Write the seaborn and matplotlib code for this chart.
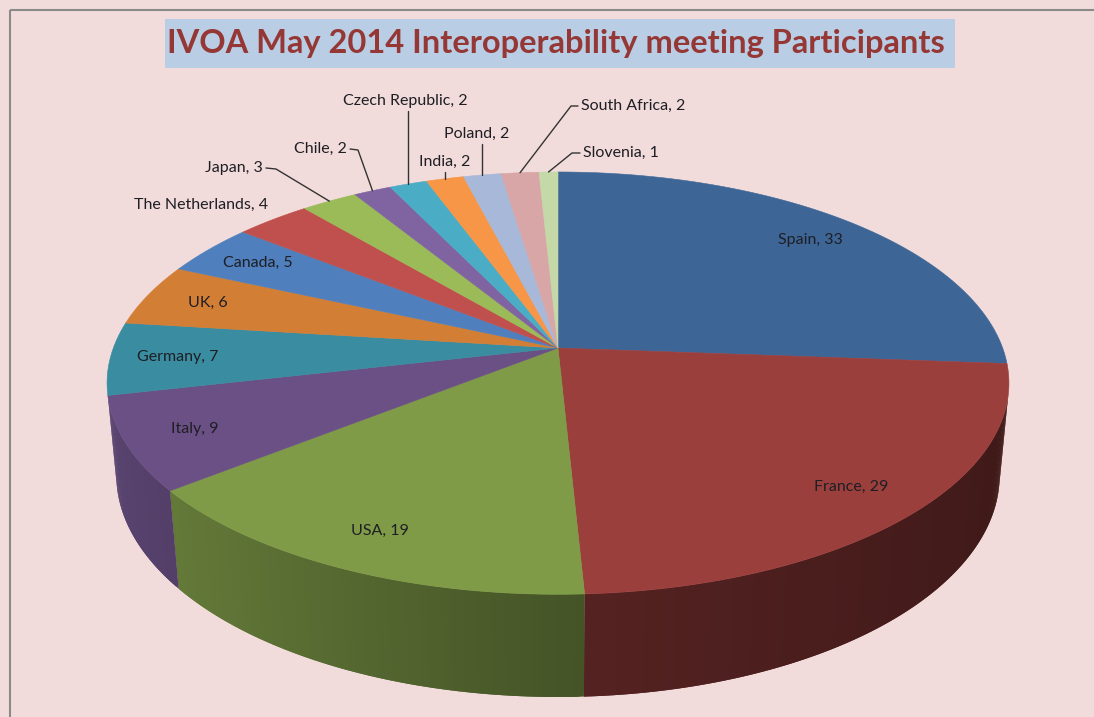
import numpy as np
import seaborn as sns
import matplotlib.pyplot as plt
from matplotlib.patches import Polygon, Rectangle

# data
countries = ["Spain", "France", "USA", "Italy", "Germany", "UK", "Canada",
             "The Netherlands", "Japan", "Chile", "Czech Republic", "India",
             "Poland", "South Africa", "Slovenia"]
participants = [33, 29, 19, 9, 7, 6, 5, 4, 3, 2, 2, 2, 2, 2, 1]
slice_colors = ["#3D6697", "#9B3F3D", "#7F9B48", "#6A5085", "#3A8CA0",
                "#D37E35", "#4F80BD", "#C0504D", "#9BBB59", "#8064A2",
                "#4BACC6", "#F79646", "#A8B8D8", "#D8A6A6", "#C4D8A8"]
title = "IVOA May 2014 Interoperability meeting Participants"

sns.set_theme(style="white")
plt.rcParams["font.family"] = ["Lato", "DejaVu Sans"]

BG = "#F2DCDB"
TXT = "#1E1E24"

# perspective camera for the 3d pie
ELEV = np.radians(27.5)
DIST = 5.33
FOCAL = 2370
CX, CY = 558, 348
THICK = 0.235


def proj(x, y, z=0.0):
    depth = DIST + y * np.cos(ELEV) - z * np.sin(ELEV)
    up = y * np.sin(ELEV) + z * np.cos(ELEV)
    return CX + FOCAL * x / depth, CY - FOCAL * up / depth


def shade(color, theta):
    rgb = np.array(sns.color_palette([color])[0])
    c = np.cos(theta)
    f = 0.55 - 0.3 * c if c < 0 else 0.55 - 0.15 * c
    return tuple(rgb * f)


vals = np.array(participants, dtype=float)
cum = np.concatenate([[0], np.cumsum(vals)])
starts = np.radians(90 - cum[:-1] / vals.sum() * 360)
ends = np.radians(90 - cum[1:] / vals.sum() * 360)

fig = plt.figure(figsize=(10.94, 7.17), dpi=100, facecolor=BG)
ax = fig.add_axes([0, 0, 1, 1])
ax.set_xlim(0, 1094)
ax.set_ylim(717, 0)
ax.axis("off")
ax.set_facecolor(BG)

# frame lines (top and left)
ax.plot([10, 1094], [9.5, 9.5], color="#8A8A8A", lw=1.5, solid_capstyle="butt")
ax.plot([10, 10], [9.5, 717], color="#8A8A8A", lw=1.5, solid_capstyle="butt")

# side walls, only the part facing the camera
limit = -1.0 / (DIST * np.cos(ELEV))
step = np.radians(0.5)
for a0, a1, col in zip(starts, ends, slice_colors):
    steps = np.linspace(a0, a1, max(int(abs(a1 - a0) / step), 2) + 1)
    for k, (t0, t1) in enumerate(zip(steps[:-1], steps[1:])):
        tm = 0.5 * (t0 + t1)
        if np.sin(tm) >= limit:
            continue
        # overlap the next strip a little so no seams show
        t1x = max(t1 - step, a1) if k < len(steps) - 2 else t1
        pts = [proj(np.cos(t0), np.sin(t0)), proj(np.cos(t1x), np.sin(t1x)),
               proj(np.cos(t1x), np.sin(t1x), -THICK), proj(np.cos(t0), np.sin(t0), -THICK)]
        sc = shade(col, tm)
        ax.add_patch(Polygon(pts, closed=True, facecolor=sc, edgecolor="none"))

# top face wedges
for a0, a1, col in zip(starts, ends, slice_colors):
    t = np.linspace(a0, a1, 120)
    pts = [proj(0, 0)] + [proj(np.cos(v), np.sin(v)) for v in t]
    ax.add_patch(Polygon(pts, closed=True, facecolor=col, edgecolor=col, lw=0.4))

mids = 0.5 * (starts + ends)

# labels inside the large slices
for name, v, m in zip(countries[:7], participants[:7], mids[:7]):
    x, y = proj(0.85 * np.cos(m), 0.85 * np.sin(m))
    ax.text(x, y, f"{name}, {v}", ha="center", va="center", fontsize=11.5, color=TXT)

# labels outside for the small slices: text position, alignment, leader elbow
outside = {
    "The Netherlands": (268, 205, "right", None),
    "Japan": (263, 168, "right", (276, 169)),
    "Chile": (347, 149, "right", (358, 150)),
    "Czech Republic": (405, 101, "center", "down"),
    "India": (445, 162, "center", "down"),
    "Poland": (477, 134, "center", "down"),
    "South Africa": (581, 106, "left", (571, 106)),
    "Slovenia": (583, 153, "left", (572, 153)),
}
for i in range(7, len(countries)):
    name = countries[i]
    tx, ty, ha, elbow = outside[name]
    ax.text(tx, ty, f"{name}, {participants[i]}", ha=ha, va="center",
            fontsize=11.5, color=TXT)
    rx, ry = proj(np.cos(mids[i]), np.sin(mids[i]))
    if elbow is None:
        continue
    if elbow == "down":
        ax.plot([rx, rx], [ty + 10, ry], color="#333333", lw=1)
    else:
        sx = tx + 3 if ha == "right" else tx - 3
        ax.plot([sx, elbow[0], rx], [ty, elbow[1], ry], color="#333333", lw=1)

# title with its box
ax.add_patch(Rectangle((165, 19), 790, 49, facecolor="#B9CDE5", edgecolor="none"))
ax.text(556, 44, title, ha="center", va="center", fontsize=23.5,
        fontweight="bold", color="#953735")

fig.savefig("out.png", dpi=100, facecolor=BG)
